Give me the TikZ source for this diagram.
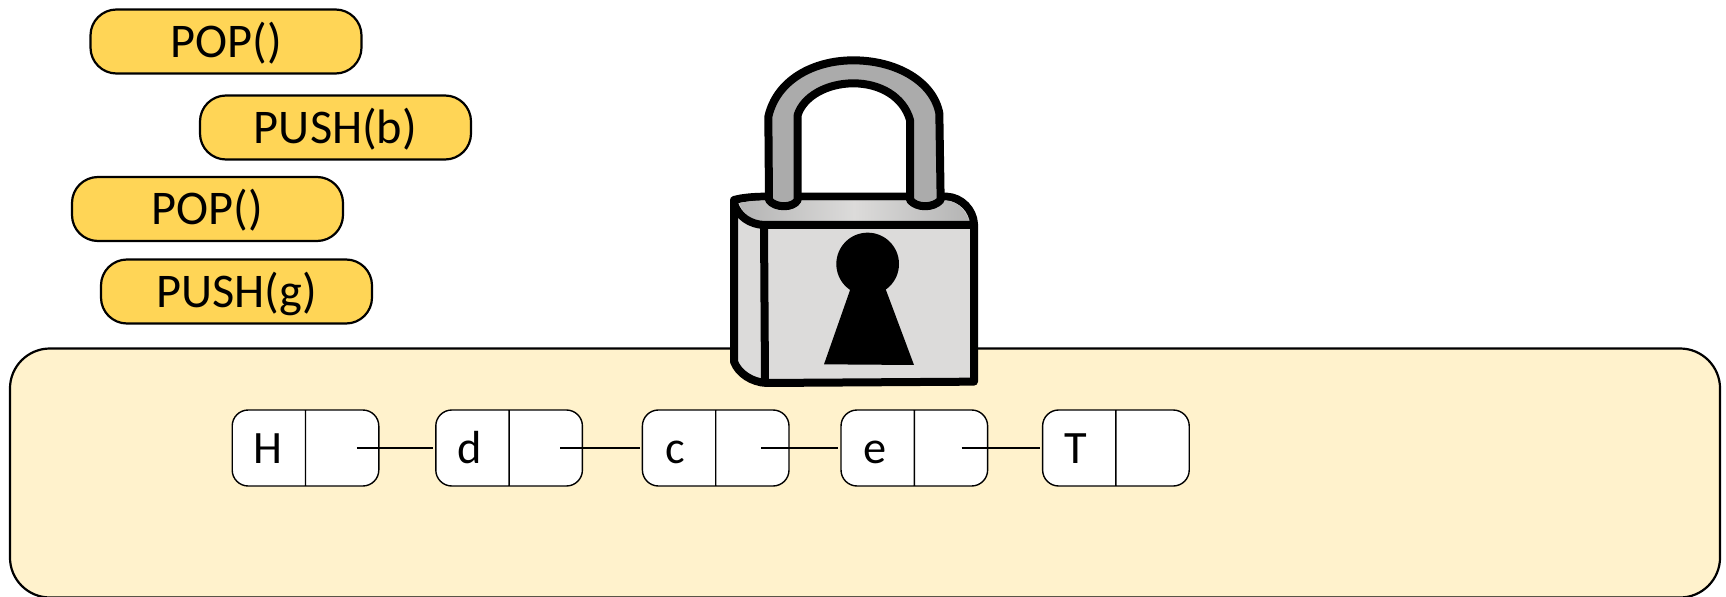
\documentclass[tikz,border=0pt]{standalone}
\usepackage{fontspec}
\setmainfont{Carlito}
\usepackage{tikz}
\usetikzlibrary{
  positioning,
  shapes.multipart
}
\definecolor{opyellow}{HTML}{FFD556}
\definecolor{panelcream}{HTML}{FFF2CC}
\definecolor{lockbody}{HTML}{DCDBDA}
\definecolor{lockshade}{HTML}{B4B4B4}
\definecolor{shacklegray}{HTML}{ABABAB}
\newcommand{\cellkey}[2]{\hspace*{#2}#1\hspace*{-#2}}
\tikzset{
  opbox/.style={
    draw=black,
    line width=0.55mm,
    fill=opyellow,
    rounded corners=6.5mm,
    minimum width=67.75mm,
    minimum height=16mm,
    text height=9mm,
    text depth=1.1mm,
    outer sep=0pt,
    inner sep=0pt,
    font=\fontsize{34.4}{40}\selectfont
  },
  panel/.style={
    draw=black,
    line width=0.55mm,
    fill=panelcream,
    rounded corners=10mm,
    minimum width=427.5mm,
    minimum height=62.25mm,
    outer sep=0pt
  },
  cellbox/.style={
    draw=black,
    line width=0.35mm,
    fill=white,
    rounded corners=4mm,
    rectangle split,
    rectangle split horizontal,
    rectangle split parts=2,
    text width=18.15mm,
    text height=8.6mm,
    text depth=1.1mm,
    align=center,
    minimum height=19mm,
    inner sep=0pt,
    outer sep=0pt,
    font=\fontsize{33}{38}\selectfont
  },
  linkline/.style={line width=0.4mm,draw=black,shorten >=0.7mm},
  lockline/.style={line width=2mm,draw=black,line join=round}
}
\begin{document}
\begin{tikzpicture}[x=0.25mm,y=-0.25mm]
  \useasboundingbox (0,0) rectangle (1726,597);

  \node[opbox] (popa) at (226,41.5) {POP()};
  \node[opbox] (pushb) at (335.5,127.5) {PUSH(b)};
  \node[opbox] (popb) at (207.5,209) {POP()};
  \node[opbox] (pushg) at (236.5,291.5) {PUSH(g)};

  \node[panel] (region) at (865,473) {};

  \begin{scope}[shift={(700,40)},x=0.08333mm,y=-0.08333mm]
    \draw[lockline,fill=lockbody] (102,480) .. controls (130,472) and (170,470) .. (200,470)
      -- (740,470) .. controls (785,472) and (820,510) .. (822,552)
      -- (822,1025) -- (200,1029) .. controls (155,1027) and (115,1000) .. (102,965) -- cycle;
    \shade[left color=lockshade,right color=lockshade,middle color=lockbody]
      (118,490) .. controls (130,525) and (160,543) .. (192,545) -- (808,545)
      .. controls (800,515) and (775,485) .. (740,481) -- (200,481) .. controls (170,481) and (140,484) .. (118,490) -- cycle;
    \draw[lockline] (102,490) .. controls (115,530) and (150,553) .. (192,555) -- (822,555);
    \draw[lockline] (192,555) -- (195,1027);
    \draw[lockline,fill=shacklegray] (207,480) -- (205,230) .. controls (230,120) and (340,61) .. (460,61)
      .. controls (590,61) and (700,125) .. (718,220) -- (722,480)
      .. controls (700,505) and (650,505) .. (630,480) -- (630,240)
      .. controls (610,170) and (540,130) .. (460,130)
      .. controls (380,130) and (310,170) .. (293,225) -- (293,480)
      .. controls (280,505) and (225,505) .. (207,480) -- cycle;
    \fill[black] (503,672) circle [radius=94];
    \fill[black] (452,745) -- (372,973) -- (642,975) -- (556,745) -- cycle;
  \end{scope}

  \node[cellbox] (head) at (305.5,448) {\cellkey{H}{-0.5mm}\nodepart{two}};
  \node[cellbox,right=14.25mm of head] (noded) {\cellkey{d}{-1.4mm}\nodepart{two}};
  \node[cellbox,right=15mm of noded] (nodec) {\cellkey{c}{-1.75mm}\nodepart{two}};
  \node[cellbox,right=13mm of nodec] (nodee) {\cellkey{e}{-1.25mm}\nodepart{two}};
  \node[cellbox,right=13.75mm of nodee] (tail) {\cellkey{T}{-1.5mm}\nodepart{two}};

  \draw[linkline] ([xshift=-5.5mm]head.east) -- (noded.west);
  \draw[linkline] ([xshift=-5.5mm]noded.east) -- (nodec.west);
  \draw[linkline] ([xshift=-7mm]nodec.east) -- (nodee.west);
  \draw[linkline] ([xshift=-6.5mm]nodee.east) -- (tail.west);
\end{tikzpicture}
\end{document}
